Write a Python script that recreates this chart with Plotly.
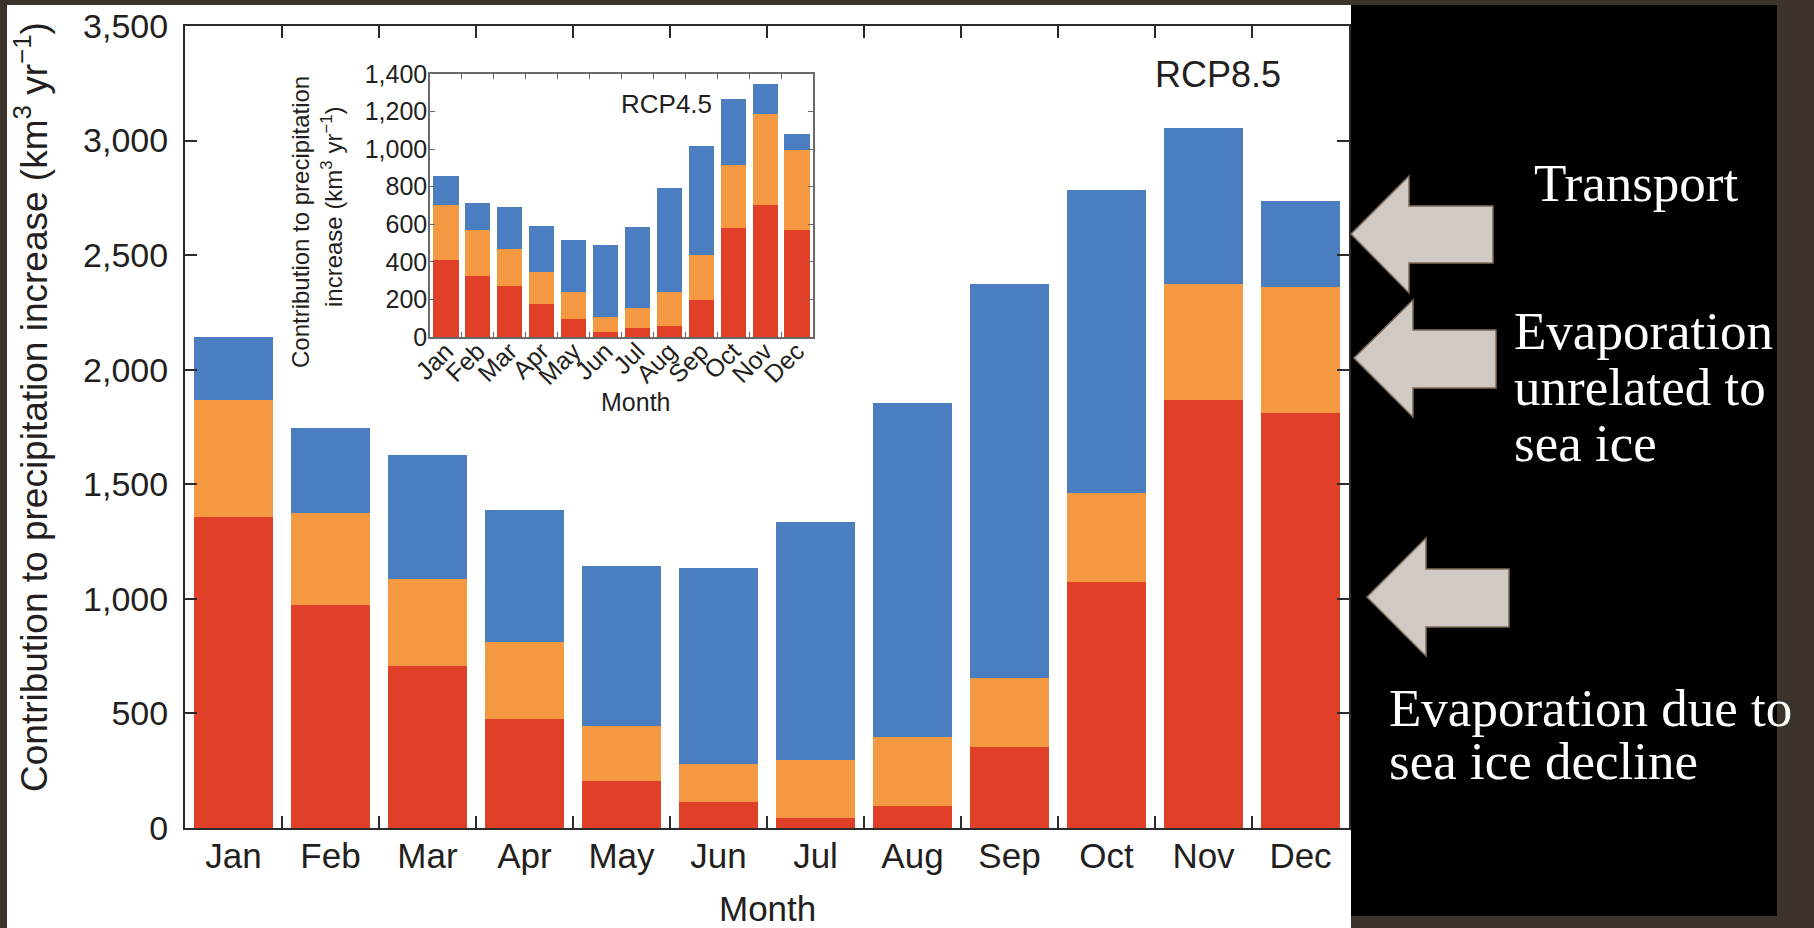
import plotly.graph_objects as go

# ---------------- data ----------------
months = ["Jan", "Feb", "Mar", "Apr", "May", "Jun", "Jul", "Aug", "Sep", "Oct", "Nov", "Dec"]

# RCP8.5 (main panel) contributions, km3/yr (stacked: red bottom, orange middle, blue top)
rcp85_sea_ice = [1356, 973, 707, 474, 206, 115, 42, 96, 352, 1075, 1868, 1812]
rcp85_evap_other = [512, 402, 380, 336, 237, 164, 255, 301, 303, 385, 506, 550]
rcp85_transport = [275, 370, 543, 578, 701, 854, 1040, 1456, 1717, 1326, 683, 374]

# RCP4.5 (inset) contributions, km3/yr
rcp45_sea_ice = [408, 323, 274, 177, 94, 28, 47, 59, 196, 578, 705, 567]
rcp45_evap_other = [297, 244, 193, 169, 146, 76, 110, 182, 239, 339, 481, 428]
rcp45_transport = [150, 145, 224, 244, 278, 386, 427, 552, 580, 352, 159, 88]

main_yticks = [0, 500, 1000, 1500, 2000, 2500, 3000, 3500]
inset_yticks = [0, 200, 400, 600, 800, 1000, 1200, 1400]

RED = "#df4027"
ORANGE = "#f49842"
BLUE = "#4b7ec0"

# ---------------- layout helpers (pixel -> paper) ----------------
W, H = 1814, 928


def px(x):
    return x / W


def py(y):
    return 1 - y / H


SANS = "Liberation Sans, Arial, Helvetica, sans-serif"
SERIF = "Liberation Serif, Times New Roman, serif"
TXT = "#231f20"

fig = go.Figure()

series = [
    ("Evaporation due to sea ice decline", RED, rcp85_sea_ice, rcp45_sea_ice),
    ("Evaporation unrelated to sea ice", ORANGE, rcp85_evap_other, rcp45_evap_other),
    ("Transport", BLUE, rcp85_transport, rcp45_transport),
]
for name, col, v85, v45 in series:
    fig.add_trace(go.Bar(x=months, y=v85, name=name, marker=dict(color=col, line=dict(width=0)),
                         width=0.815, xaxis="x", yaxis="y", showlegend=False))
for name, col, v85, v45 in series:
    fig.add_trace(go.Bar(x=months, y=v45, name=name, marker=dict(color=col, line=dict(width=0)),
                         width=0.79, xaxis="x2", yaxis="y2", showlegend=False))

shapes = [
    # white figure panel
    dict(type="rect", xref="paper", yref="paper", x0=px(7), x1=px(1351), y0=py(928), y1=py(5),
         fillcolor="white", line=dict(width=0), layer="below"),
    # black side panel
    dict(type="rect", xref="paper", yref="paper", x0=px(1351), x1=px(1777), y0=py(916), y1=py(5),
         fillcolor="black", line=dict(width=0), layer="below"),
]


def arrow(tip_x, tip_y, head_x, head_top, head_bot, sh_right, sh_top, sh_bot):
    pts = [(tip_x, tip_y), (head_x, head_top), (head_x, sh_top), (sh_right, sh_top),
           (sh_right, sh_bot), (head_x, sh_bot), (head_x, head_bot)]
    path = "M " + " L ".join(f"{px(a):.5f},{py(b):.5f}" for a, b in pts) + " Z"
    return dict(type="path", xref="paper", yref="paper", path=path,
                fillcolor="#d1c9c3", line=dict(color="#7d6b5b", width=1.5), layer="above")


shapes.append(arrow(1351, 234, 1409, 176, 293, 1493, 206, 263))
shapes.append(arrow(1354, 358, 1413, 300, 417, 1496, 330, 388))
shapes.append(arrow(1367, 597, 1426, 538, 656, 1509, 569, 627))

annotations = [
    dict(text="Contribution to precipitation increase (km<sup>3</sup> yr<sup>−1</sup>)",
         x=px(31), y=py(407), xref="paper", yref="paper", textangle=-90, showarrow=False,
         xanchor="center", yanchor="middle", font=dict(family=SANS, size=37, color=TXT)),
    dict(text="Month", x=px(767), y=py(908), xref="paper", yref="paper", showarrow=False,
         xanchor="center", yanchor="middle", font=dict(family=SANS, size=35, color=TXT)),
    dict(text="RCP8.5", x=px(1218), y=py(75), xref="paper", yref="paper", showarrow=False,
         xanchor="center", yanchor="middle", font=dict(family=SANS, size=36, color=TXT)),
    dict(text="Contribution to precipitation",
         x=px(300), y=py(222), xref="paper", yref="paper", textangle=-90, showarrow=False,
         xanchor="center", yanchor="middle", font=dict(family=SANS, size=24, color=TXT)),
    dict(text="increase (km<sup>3</sup> yr<sup>−1</sup>)",
         x=px(332), y=py(207), xref="paper", yref="paper", textangle=-90, showarrow=False,
         xanchor="center", yanchor="middle", font=dict(family=SANS, size=24, color=TXT)),
    dict(text="Month", x=px(635), y=py(402), xref="paper", yref="paper", showarrow=False,
         xanchor="center", yanchor="middle", font=dict(family=SANS, size=25, color=TXT)),
    dict(text="RCP4.5", x=px(619), y=py(104), xref="paper", yref="paper", showarrow=False,
         xanchor="left", yanchor="middle", font=dict(family=SANS, size=26, color=TXT)),
]

side_lines = [
    ("Transport", 1532, 200),
    ("Evaporation", 1512, 348),
    ("unrelated to", 1512, 404),
    ("sea ice", 1512, 460),
    ("Evaporation due to", 1387, 725),
    ("sea ice decline", 1387, 778),
]
for t, x, base in side_lines:
    annotations.append(dict(text=t, x=px(x), y=py(base - 17), xref="paper", yref="paper",
                            showarrow=False, xanchor="left", yanchor="middle",
                            font=dict(family=SERIF, size=53, color="white")))

axis_common = dict(showgrid=False, zeroline=False, showline=True, mirror="ticks", ticks="inside",
                   automargin=False)

fig.update_layout(
    template="none",
    width=W, height=H,
    margin=dict(l=0, r=0, t=0, b=0, pad=0, autoexpand=False),
    paper_bgcolor="#3c332b",
    plot_bgcolor="white",
    barmode="stack",
    showlegend=False,
    shapes=shapes,
    annotations=annotations,
    xaxis=dict(domain=[px(185), px(1349)], anchor="y", type="category", range=[-0.5, 11.5],
               tickson="boundaries", linecolor="#2b2b2b", linewidth=2, tickcolor="#2b2b2b",
               tickwidth=2, ticklen=12, tickfont=dict(family=SANS, size=35, color=TXT),
               ticklabelstandoff=-4, **axis_common),
    yaxis=dict(domain=[py(828), py(26)], anchor="x", range=[0, 3500], tickvals=main_yticks,
               tickformat=",d", linecolor="#2b2b2b", linewidth=2, tickcolor="#2b2b2b",
               tickwidth=2, ticklen=12, tickfont=dict(family=SANS, size=34, color=TXT),
               ticklabelstandoff=8, **axis_common),
    xaxis2=dict(domain=[px(430), px(813)], anchor="y2", type="category", range=[-0.5, 11.5],
                tickson="boundaries", tickangle=-45, linecolor="#6a6a6a", linewidth=1.5,
                tickcolor="#6a6a6a", tickwidth=1, ticklen=5, ticklabelstandoff=-12,
                tickfont=dict(family=SANS, size=25, color=TXT), **axis_common),
    yaxis2=dict(domain=[py(337), py(74)], anchor="x2", range=[0, 1400], tickvals=inset_yticks,
                tickformat=",d", linecolor="#6a6a6a", linewidth=1.5, tickcolor="#6a6a6a",
                tickwidth=1, ticklen=5, tickfont=dict(family=SANS, size=25, color=TXT),
                ticklabelstandoff=-4, **axis_common),
)

fig.write_html("out.html")
